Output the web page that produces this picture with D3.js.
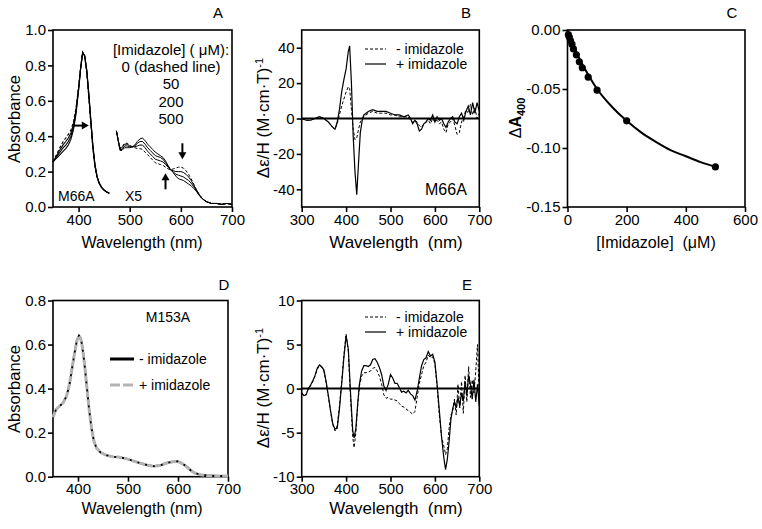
<!DOCTYPE html>
<html><head><meta charset="utf-8">
<script src="https://cdn.jsdelivr.net/npm/d3@7"></script>
<style>
body{margin:0;background:#fff}
svg{font-family:"Liberation Sans",Arial,sans-serif}
</style></head><body>
<svg id="chart" width="762" height="529"></svg>
<script>
// ================= DATA =================
// Panel A (M66A absorbance) - Soret region
const aSoretWl = [350,355,360,365,370,375,380,385,390,395,400,404,408,412,416,420,424,428,432,436,440,445,450,455,460];
const aSoret0   = [.255,.285,.315,.345,.370,.390,.410,.435,.480,.560,.680,.790,.875,.850,.760,.620,.470,.330,.230,.170,.135,.110,.095,.085,.078];
const aSoret50  = [.255,.280,.305,.330,.352,.370,.390,.418,.465,.548,.672,.786,.874,.852,.765,.628,.478,.336,.234,.172,.136,.110,.095,.085,.078];
const aSoret200 = [.255,.275,.295,.315,.335,.350,.370,.400,.450,.537,.665,.782,.872,.854,.770,.636,.486,.342,.238,.174,.137,.111,.095,.085,.078];
const aSoret500 = [.255,.270,.285,.300,.316,.330,.350,.382,.435,.525,.657,.778,.870,.856,.775,.644,.494,.348,.242,.176,.138,.111,.095,.085,.078];
// Panel A - visible region (x5)
const aVisWl  = [474,478,481,485,490,495,500,505,510,515,520,525,530,535,540,545,550,555,560,565,570,575,580,585,590,595,600,605,610,615,620,625,630,635,640,645,650,655,660,670,680,690,700];
const aVis0   = [.43,.37,.335,.34,.36,.36,.35,.34,.335,.33,.33,.325,.31,.295,.28,.265,.25,.245,.24,.235,.225,.215,.21,.215,.22,.225,.225,.22,.205,.185,.16,.13,.10,.075,.055,.04,.03,.025,.02,.02,.015,.02,.015];
const aVis50  = [.43,.37,.33,.335,.355,.355,.345,.34,.34,.345,.35,.35,.335,.315,.30,.285,.27,.265,.26,.255,.24,.225,.21,.205,.20,.20,.20,.195,.185,.17,.15,.125,.10,.075,.055,.04,.03,.025,.02,.02,.015,.02,.015];
const aVis200 = [.43,.37,.325,.325,.345,.345,.34,.34,.345,.36,.37,.37,.355,.335,.32,.305,.29,.285,.28,.27,.25,.23,.21,.20,.185,.18,.175,.17,.16,.15,.135,.115,.095,.07,.055,.04,.03,.025,.02,.02,.015,.02,.015];
const aVis500 = [.43,.365,.32,.32,.335,.335,.335,.34,.35,.37,.385,.39,.375,.355,.34,.325,.31,.30,.29,.28,.26,.235,.21,.195,.175,.16,.155,.15,.14,.13,.12,.105,.09,.07,.05,.04,.03,.025,.02,.02,.015,.02,.015];
const aLegendLines = ["[Imidazole] ( \u03bcM):", "0 (dashed line)", "50", "200", "500"];
// Panel A arrows: [x1, y1, x2, y2] in data units
const aArrows = [[391,0.46,420,0.46],[570,0.10,570,0.19],[603,0.36,603,0.27]];
const aXTicks = [400,500,600,700];
const aYTicks = [0,0.2,0.4,0.6,0.8,1.0];

// Panel B (M66A MCD)
const bWl    = [300,310,320,330,340,350,360,370,375,380,385,390,395,400,405,408,412,416,420,424,428,432,437,440,450,460,470,480,490,500,510,520,530,540,545,550,555,560,565,570,575,580,585,590,595,600,605,610,615,620,625,630,635,640,645,650,655,660,665,670,675,680,685,690,695,700];
const bMinus = [0,-1,-1,0,1,0,-2,-5,-6,-3,2,7,11,15,18,17,5,-6,-12,-11,-6,-2,0,1,3,4,3,3,3,2,2,1,1,1,-1,-2,-1,-2,-4,-5,-3,-2,-1,-3,0,-2,-1,-3,-2,-6,-8,-3,-2,0,-4,-9,-8,-2,1,5,3,8,2,6,0,3];
const bPlus  = [0,-1,-1,0,1,0,-2,-5,-6,-2,5,15,22,28,38,41,20,-10,-30,-43,-25,-8,0,2,4,5,4,4,4,3,2,2,1,2,0,-3,-1,-3,-7,-6,-3,-2,0,-1,2,-2,1,-1,0,-3,-5,-2,0,1,-2,-3,1,3,-1,4,7,2,9,3,9,4];
const bXTicks = [300,400,500,600,700];
const bYTicks = [-40,-20,0,20,40];

// Panel C (titration)
const cConc   = [3,6,10,15,20,30,40,50,70,100,200,500];
const cDeltaA = [-0.004,-0.006,-0.009,-0.012,-0.016,-0.021,-0.027,-0.032,-0.040,-0.051,-0.077,-0.116];
const cFitConc = [0,10,25,50,75,100,150,200,250,300,350,400,450,500];
const cFitVal  = [0,-0.007,-0.016,-0.029,-0.040,-0.050,-0.065,-0.077,-0.087,-0.095,-0.102,-0.107,-0.112,-0.116];
const cXTicks = [0,200,400,600];
const cYTicks = [0,-0.05,-0.10,-0.15];

// Panel D (M153A absorbance)
const dWl       = [350,356,363,370,377,383,388,393,398,402,405,408,411,414,418,422,427,432,437,445,457,470,481,490,498,510,525,540,552,565,579,590,599,607,616,625,633,645,660,680,700];
const dAbsMinus = [.27,.305,.32,.335,.365,.42,.49,.56,.62,.64,.63,.60,.55,.49,.40,.31,.22,.16,.13,.11,.097,.09,.089,.085,.081,.072,.061,.052,.047,.052,.063,.068,.070,.062,.048,.030,.017,.009,.005,.003,.003];
const dAbsPlus  = [.27,.305,.32,.335,.365,.42,.49,.56,.62,.64,.63,.60,.55,.49,.40,.31,.22,.16,.13,.11,.097,.09,.089,.085,.081,.072,.061,.052,.047,.052,.063,.068,.070,.062,.048,.030,.017,.009,.005,.003,.003];
const dXTicks = [400,500,600,700];
const dYTicks = [0,0.2,0.4,0.6,0.8];

// Panel E (M153A MCD)
const eWl    = [300,305,310,315,320,325,330,335,340,345,350,355,360,365,370,375,380,385,390,395,400,405,410,415,418,422,426,430,435,440,445,450,455,460,465,470,475,480,485,490,495,500,505,510,515,520,525,530,535,540,545,550,555,560,565,570,575,580,585,590,595,600,605,610,615,620,624,628,632,636,640,644,648,652,656,660,664,668,672,676,680,684,688,692,696,700];
const ePlus  = [-0.5,-0.8,-0.7,0,0.4,0.9,1.5,2.3,2.7,2.5,2.1,0.8,-0.8,-2.5,-4.0,-4.6,-4.5,-2.3,0.5,3.5,6.0,4.5,-0.5,-4.8,-5.6,-4.5,-1.8,0.5,2.0,2.6,2.6,2.5,2.7,3.3,3.4,3.0,2.4,1.6,0.3,-0.2,0.5,1.6,1.2,0.6,0.6,0.1,-0.4,-0.3,-0.5,-0.2,-0.6,-0.8,-1.3,-0.3,1.2,2.6,3.3,3.5,4.2,3.7,3.9,3.0,0.5,-2.5,-5.5,-7.8,-9.2,-8.0,-6.0,-3.5,-2.3,-1.5,-2.2,-1.0,-2.0,-0.5,-1.4,0.8,-0.8,1.5,0.5,-1.2,1.0,-1.5,0.5,-2.0];
const eMinus = [-0.5,-0.9,-0.6,0,0.3,0.8,1.4,2.2,2.6,2.4,2.0,0.7,-0.9,-2.6,-4.1,-4.8,-4.2,-2.0,0.8,3.8,6.2,4.2,-1.0,-5.5,-6.7,-5.0,-2.0,0.3,1.4,1.8,1.8,1.9,2.0,2.3,2.4,2.0,1.4,0.5,-0.7,-1.1,-1.0,-1.2,-1.2,-1.3,-1.4,-1.7,-2.0,-2.1,-2.3,-2.5,-2.7,-2.9,-2.6,-1.0,0.6,1.6,2.6,3.0,3.8,3.5,3.6,2.8,0.2,-3.0,-5.5,-6.5,-7.5,-6.8,-4.5,-3.0,-2.6,-1.2,-3.0,0.5,-2.2,0.8,-2.8,1.5,-1.5,2.5,-1.0,1.0,-0.5,2.0,5.0,-1.0];
const eXTicks = [300,400,500,600,700];
const eYTicks = [-10,-5,0,5,10];

const legendMCD = ["- imidazole", "+ imidazole"];

// ================= DRAWING =================
const svg = d3.select("#chart");
const fmtMinus = f => (v => f(v).replace("\u2212", "-"));

function panel(o) {
  const x = d3.scaleLinear().domain(o.xd).range([o.l, o.r]);
  const y = d3.scaleLinear().domain(o.yd).range([o.b, o.t]);
  const g = svg.append("g");
  const ax = g.append("g").attr("transform", `translate(0,${o.b})`)
    .call(d3.axisBottom(x).tickValues(o.xt).tickSize(5).tickPadding(2).tickSizeOuter(0).tickFormat(o.xf || d3.format("d")));
  const ay = g.append("g").attr("transform", `translate(${o.l},0)`)
    .call(d3.axisLeft(y).tickValues(o.yt).tickSize(5).tickPadding(2).tickSizeOuter(0).tickFormat(o.yf));
  [ax, ay].forEach(a => {
    a.select(".domain").remove();
    a.selectAll("line").attr("stroke", "#000").attr("stroke-width", 1.6);
    a.selectAll("text").attr("font-size", 15).attr("fill", "#000").attr("font-family", "Liberation Sans, Arial, sans-serif");
  });
  g.append("rect").attr("x", o.l).attr("y", o.t).attr("width", o.r - o.l).attr("height", o.b - o.t)
    .attr("fill", "none").attr("stroke", "#000").attr("stroke-width", 1.6);
  return {x, y, g};
}
function lineOf(p, xs, ys) {
  return d3.line().x((d, i) => p.x(xs[i])).y(d => p.y(d))(ys);
}
function label(txt, x, y) {
  svg.append("text").attr("x", x).attr("y", y).attr("text-anchor", "middle").attr("font-size", 15).text(txt);
}
function xTitle(txt, x, y, fs) {
  svg.append("text").attr("x", x).attr("y", y).attr("text-anchor", "middle").attr("font-size", fs)
    .style("white-space", "pre").text(txt);
}
function yTitle(x, y, fs) {
  return svg.append("text").attr("transform", `translate(${x},${y}) rotate(-90)`).attr("text-anchor", "middle").attr("font-size", fs);
}
function arrowHead(g, x, y, angle) {
  g.append("path").attr("d", "M0,0 L-7,-4 L-7,4 Z").attr("fill", "#000")
    .attr("transform", `translate(${x},${y}) rotate(${angle})`);
}

// ---- Panel A ----
{
  const p = panel({l:53, r:232, t:30, b:207, xd:[350,700], yd:[0,1], xt:aXTicks, yt:aYTicks, yf:d3.format(".1f")});
  const soret = [aSoret0, aSoret50, aSoret200, aSoret500];
  const vis = [aVis0, aVis50, aVis200, aVis500];
  soret.forEach((s, k) => p.g.append("path").attr("d", lineOf(p, aSoretWl, s)).attr("fill", "none")
      .attr("stroke", "#000").attr("stroke-width", 1.1).attr("stroke-dasharray", k === 0 ? "3,2" : null));
  vis.forEach((s, k) => p.g.append("path").attr("d", lineOf(p, aVisWl, s)).attr("fill", "none")
      .attr("stroke", "#000").attr("stroke-width", 1).attr("stroke-dasharray", k === 0 ? "3,2" : null));
  aArrows.forEach(a => {
    const x1 = p.x(a[0]), y1 = p.y(a[1]), x2 = p.x(a[2]), y2 = p.y(a[3]);
    const ang = Math.atan2(y2 - y1, x2 - x1) * 180 / Math.PI;
    p.g.append("line").attr("x1", x1).attr("y1", y1).attr("x2", x2 - 5 * Math.cos(ang*Math.PI/180)).attr("y2", y2 - 5 * Math.sin(ang*Math.PI/180))
      .attr("stroke", "#000").attr("stroke-width", 2);
    arrowHead(p.g, x2, y2, ang);
  });
  aLegendLines.forEach((t, i) => svg.append("text").attr("x", 171).attr("y", 55 + i * 17.2)
    .attr("text-anchor", "middle").attr("font-size", 15).text(t));
  svg.append("text").attr("x", 58).attr("y", 201).attr("font-size", 14).text("M66A");
  svg.append("text").attr("x", 125).attr("y", 201).attr("font-size", 14).text("X5");
  label("A", 218, 18);
  xTitle("Wavelength (nm)", 142, 248, 16);
  yTitle(20, 119, 16.5).text("Absorbance");
}

// ---- Panel B ----
function mcdTitle(x, y) {
  const t = yTitle(x, y, 17);
  t.append("tspan").text("\u0394\u03b5/H (M\u00b7cm\u00b7T)");
  t.append("tspan").attr("dy", -6).attr("font-size", 11).text("-1");
}
function mcdLegend(x, y) {
  svg.append("line").attr("x1", x).attr("x2", x + 21).attr("y1", y).attr("y2", y)
    .attr("stroke", "#000").attr("stroke-width", 1).attr("stroke-dasharray", "3,2");
  svg.append("line").attr("x1", x).attr("x2", x + 21).attr("y1", y + 15).attr("y2", y + 15)
    .attr("stroke", "#000").attr("stroke-width", 1.2);
  legendMCD.forEach((t, i) => svg.append("text").attr("x", x + 31).attr("y", y + 5 + i * 15)
    .attr("font-size", 14).text(t));
}
{
  const p = panel({l:301.7, r:479.3, t:30, b:207, xd:[300,700], yd:[-50,50], xt:bXTicks, yt:bYTicks, yf:fmtMinus(d3.format("d"))});
  p.g.append("line").attr("x1", p.x(300)).attr("x2", p.x(700)).attr("y1", p.y(0)).attr("y2", p.y(0))
    .attr("stroke", "#000").attr("stroke-width", 2);
  p.g.append("path").attr("d", lineOf(p, bWl, bMinus)).attr("fill", "none").attr("stroke", "#000")
    .attr("stroke-width", 1).attr("stroke-dasharray", "3,2");
  p.g.append("path").attr("d", lineOf(p, bWl, bPlus)).attr("fill", "none").attr("stroke", "#000").attr("stroke-width", 1.2);
  mcdLegend(365, 49);
  svg.append("text").attr("x", 425).attr("y", 195).attr("font-size", 16).text("M66A");
  label("B", 466, 18);
  xTitle("Wavelength  (nm)", 396, 248, 17);
  mcdTitle(269, 118);
}

// ---- Panel C ----
{
  const p = panel({l:567.5, r:745, t:30, b:207, xd:[0,600], yd:[-0.15,0], xt:cXTicks, yt:cYTicks, yf:fmtMinus(d3.format(".2f"))});
  p.g.append("path").attr("d", d3.line().curve(d3.curveMonotoneX).x((d, i) => p.x(cFitConc[i])).y(d => p.y(d))(cFitVal))
    .attr("fill", "none").attr("stroke", "#000").attr("stroke-width", 2);
  p.g.selectAll("circle.pt").data(cDeltaA).join("circle").attr("class", "pt")
    .attr("cx", (d, i) => p.x(cConc[i])).attr("cy", d => p.y(d)).attr("r", 3.6).attr("fill", "#000");
  label("C", 732, 18);
  xTitle("[Imidazole]  (\u03bcM)", 656, 248, 16);
  const t = yTitle(521, 118, 16);
  t.append("tspan").text("\u0394");
  t.append("tspan").attr("font-weight", "bold").text("A");
  t.append("tspan").attr("font-weight", "bold").attr("font-size", 11).attr("dy", 4).text("400");
}

// ---- Panel D ----
{
  const p = panel({l:53, r:228, t:300.5, b:476.7, xd:[350,700], yd:[0,0.8], xt:dXTicks, yt:dYTicks, yf:d3.format(".1f")});
  p.g.append("path").attr("d", lineOf(p, dWl, dAbsMinus)).attr("fill", "none").attr("stroke", "#000").attr("stroke-width", 2);
  p.g.append("path").attr("d", lineOf(p, dWl, dAbsPlus)).attr("fill", "none").attr("stroke", "#b3b3b3")
    .attr("stroke-width", 3).attr("stroke-dasharray", "6,2");
  svg.append("text").attr("x", 168).attr("y", 322).attr("text-anchor", "middle").attr("font-size", 14).text("M153A");
  svg.append("line").attr("x1", 110).attr("x2", 134).attr("y1", 359).attr("y2", 359).attr("stroke", "#000").attr("stroke-width", 3);
  svg.append("line").attr("x1", 110).attr("x2", 134).attr("y1", 385).attr("y2", 385).attr("stroke", "#b3b3b3")
    .attr("stroke-width", 3).attr("stroke-dasharray", "10,3");
  legendMCD.forEach((t, i) => svg.append("text").attr("x", 139).attr("y", 364 + i * 26).attr("font-size", 14).text(t));
  label("D", 224, 290);
  xTitle("Wavelength (nm)", 142, 514, 16);
  yTitle(20, 389, 16.5).text("Absorbance");
}

// ---- Panel E ----
{
  const p = panel({l:301.7, r:479.3, t:300.5, b:476.7, xd:[300,700], yd:[-10,10], xt:eXTicks, yt:eYTicks, yf:fmtMinus(d3.format("d"))});
  p.g.append("line").attr("x1", p.x(300)).attr("x2", p.x(700)).attr("y1", p.y(0)).attr("y2", p.y(0))
    .attr("stroke", "#000").attr("stroke-width", 2);
  p.g.append("path").attr("d", lineOf(p, eWl, eMinus)).attr("fill", "none").attr("stroke", "#000")
    .attr("stroke-width", 1).attr("stroke-dasharray", "3,2");
  p.g.append("path").attr("d", lineOf(p, eWl, ePlus)).attr("fill", "none").attr("stroke", "#000").attr("stroke-width", 1.2);
  mcdLegend(365, 317);
  label("E", 467, 290);
  xTitle("Wavelength  (nm)", 396, 514, 17);
  mcdTitle(269, 388);
}
</script>
</body></html>
